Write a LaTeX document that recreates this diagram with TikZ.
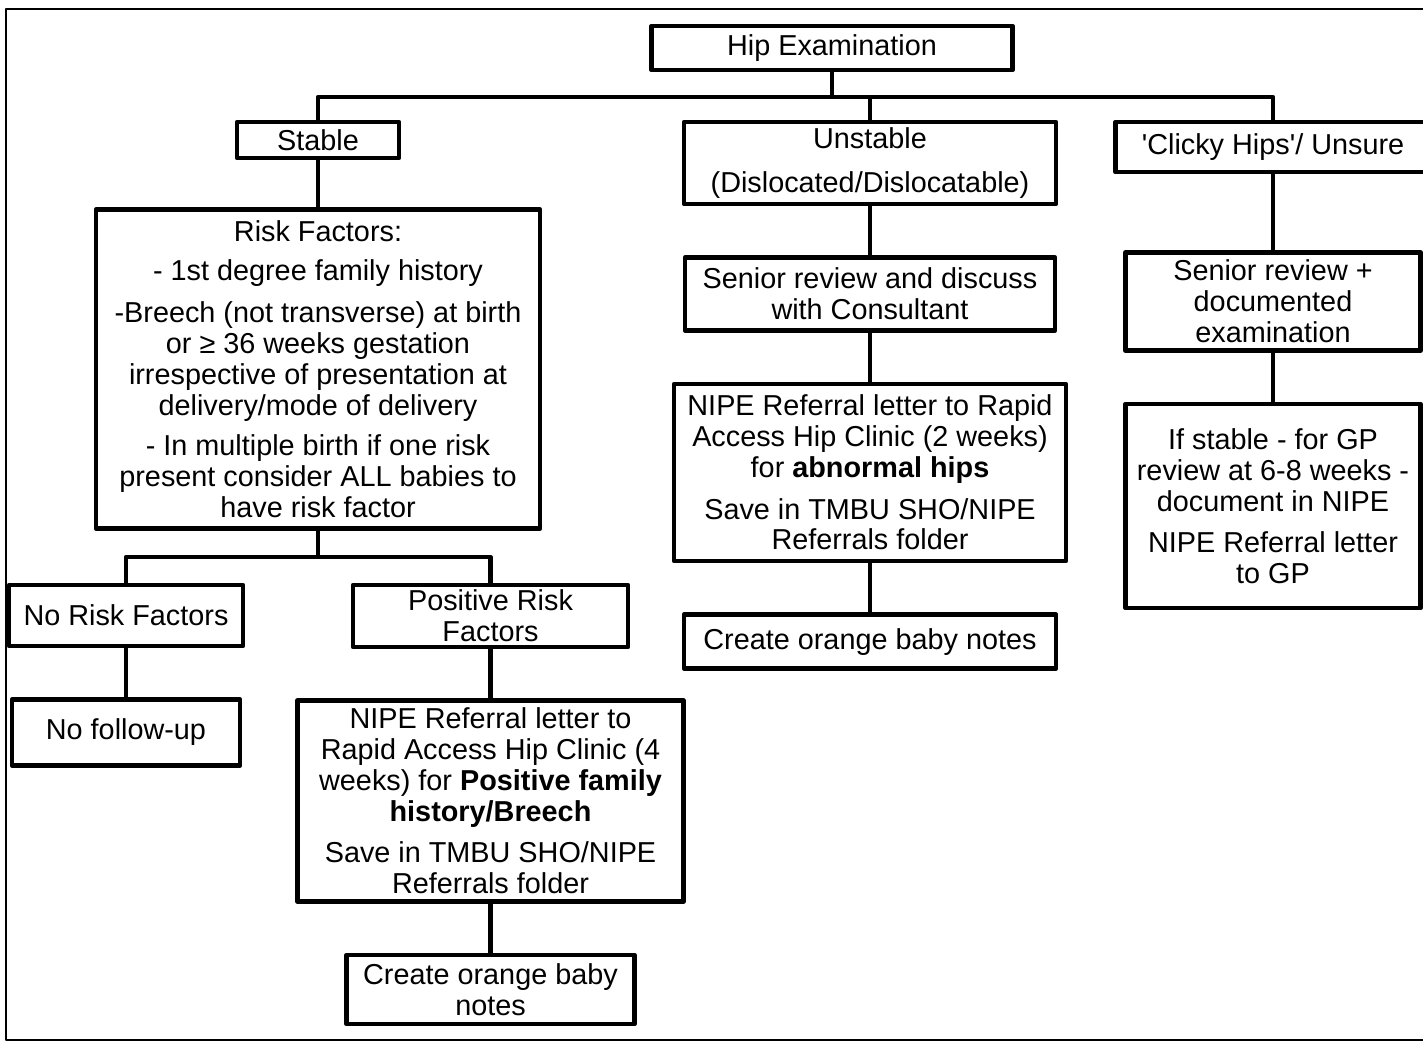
\documentclass[tikz,border=0pt]{standalone}
\usepackage{fontspec}
\setmainfont{Liberation Sans}
\usetikzlibrary{positioning}

\begin{document}
\begin{tikzpicture}[x=0.02cm,y=-0.02cm,line width=2.6pt,line join=round,node distance=0.98cm,flow node/.style={draw,rectangle,align=center,inner sep=1pt,font=\fontsize{16.4}{17.6}\selectfont}]
    \useasboundingbox (0,0) rectangle (1423,1043);
    \draw[line width=0.8pt] (6,9) rectangle (1440,1040);

    \node[flow node,minimum width=7.22cm,minimum height=0.88cm] (hip) at (832,48) {Hip Examination};
    \node[flow node,minimum width=3.24cm,minimum height=0.72cm] (stable) at (318,140) {Stable};
    \node[flow node,minimum width=7.44cm,minimum height=1.64cm] (unstable) at (870,163) {Unstable\\[7.5pt](Dislocated/Dislocatable)};
    \node[flow node,minimum width=6.3cm,minimum height=1.0cm] (clicky) at (1273,147) {\textquotesingle Clicky Hips\textquotesingle/ Unsure};

    \node[flow node,minimum width=8.88cm,minimum height=6.38cm] (risk) [below=0.94cm of stable] {Risk Factors:\\[5pt]
        - 1st degree family history\\[6pt]
        -Breech (not transverse) at birth\\or ≥ 36 weeks gestation\\irrespective of presentation at\\delivery/mode of delivery\\[5.5pt]
        - In multiple birth if one risk\\present consider ALL babies to\\have risk factor};
    \node[flow node,minimum width=4.68cm,minimum height=1.22cm] (norisk) at (126,615.5) {No Risk Factors};
    \node[flow node,minimum width=5.5cm,minimum height=1.24cm] (posrisk) at (490.5,616) {Positive Risk\\Factors};
    \node[flow node,minimum width=4.56cm,minimum height=1.32cm] (nofollow) [below=of norisk] {No follow-up};
    \node[flow node,minimum width=7.72cm,minimum height=4.02cm] (nipeA) [below=of posrisk] {NIPE Referral letter to\\Rapid Access Hip Clinic (4\\weeks) for \textbf{Positive family}\\\textbf{history/Breech}\\[6pt]
        Save in TMBU SHO/NIPE\\Referrals folder};
    \node[flow node,minimum width=5.76cm,minimum height=1.38cm] (orangeA) [below=of nipeA] {Create orange baby\\notes};

    \node[flow node,minimum width=7.4cm,minimum height=1.46cm] (senior) [below=of unstable] {Senior review and discuss\\with Consultant};
    \node[flow node,minimum width=7.84cm,minimum height=3.54cm] (nipeB) [below=of senior] {NIPE Referral letter to Rapid\\Access Hip Clinic (2 weeks)\\for \textbf{abnormal hips}\\[6pt]
        Save in TMBU SHO/NIPE\\Referrals folder};
    \node[flow node,minimum width=7.44cm,minimum height=1.08cm] (orangeB) [below=of nipeB] {Create orange baby notes};

    \node[flow node,minimum width=5.9cm,minimum height=1.96cm] (seniorplus) [below=1.52cm of clicky] {Senior review +\\documented\\examination};
    \node[flow node,minimum width=5.9cm,minimum height=4.08cm] (ifstable) [below=of seniorplus] {If stable - for GP\\review at 6-8 weeks -\\document in NIPE\\[6pt]
        NIPE Referral letter\\to GP};

    % branching buses
    \coordinate (topbus) at (832,97);
    \coordinate (riskbus) at (318,557);
    \draw (hip.south) -- (topbus);
    \draw (stable.north) |- (topbus) -| (clicky.north);
    \draw (risk.south) -- (riskbus);
    \draw (norisk.north) |- (riskbus) -| (posrisk.north);

    \path
        (unstable.north |- topbus) edge (unstable.north)
        (stable.south) edge (risk.north)
        (norisk.south) edge (nofollow.north)
        (posrisk.south) edge (nipeA.north)
        (nipeA.south) edge (orangeA.north)
        (unstable.south) edge (senior.north)
        (senior.south) edge (nipeB.north)
        (nipeB.south) edge (orangeB.north)
        (clicky.south) edge (seniorplus.north)
        (seniorplus.south) edge (ifstable.north)
    ;
\end{tikzpicture}
\end{document}
